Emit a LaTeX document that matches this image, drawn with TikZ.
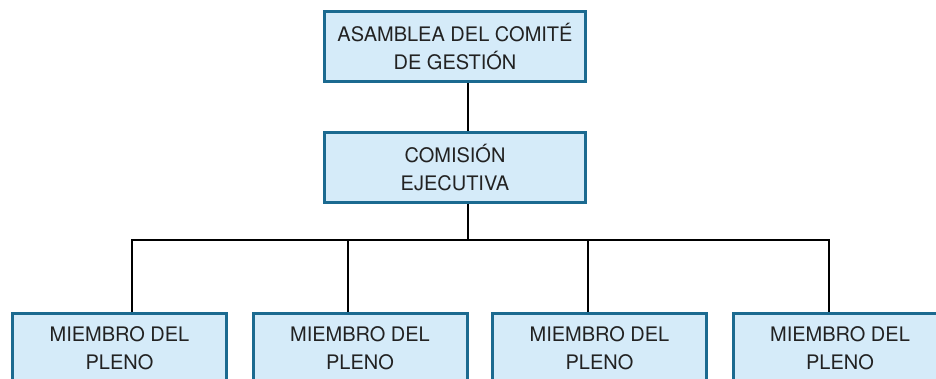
\documentclass[tikz,border=0pt]{standalone}
\usepackage{fontspec}
\setmainfont{TeX Gyre Heros}
\usepackage{xcolor}
\usepackage{tikz}
\usetikzlibrary{positioning}

\definecolor{boxfill}{HTML}{D5EBF9}
\definecolor{boxline}{HTML}{1B6A90}
\definecolor{boxtext}{HTML}{222222}

\begin{document}
\begin{tikzpicture}[x=1pt,y=-1pt,
			orgbox/.style={draw=boxline, fill=boxfill, line width=3pt, text=boxtext, align=center, font=\fontsize{20}{28}\selectfont, minimum width=261pt, minimum height=70pt, inner sep=0pt},
			memberbox/.style={orgbox, minimum width=214pt},
			link/.style={draw=black, line width=1.6pt}]
						\useasboundingbox (0,0) rectangle (936,378);
						% top levels
						\node[orgbox] (asamblea) at (455,46.5) {ASAMBLEA DEL COMITÉ\\DE GESTIÓN};
						\node[orgbox] (comision) at (455,167.5) {COMISIÓN\\EJECUTIVA};
						% members
						\node[memberbox] (m1) at (119.5,348.5) {MIEMBRO DEL\\PLENO};
						\node[memberbox] (m2) at (360,348.5) {MIEMBRO DEL\\PLENO};
						\node[memberbox] (m3) at (599.5,348.5) {MIEMBRO DEL\\PLENO};
						\node[memberbox] (m4) at (840,348.5) {MIEMBRO DEL\\PLENO};
						\coordinate (spine) at (468,240);
						\draw[link] (asamblea.south -| spine) -- (comision.north -| spine);
						\draw[link] (comision.south -| spine) -- (spine);
						\draw[link] ([xshift=12.5pt]m1.north) |- (spine) -| ([xshift=-11pt]m4.north);
						\draw[link] ([xshift=-12pt]m2.north) -- ([xshift=-12pt]m2.north |- spine);
						\draw[link] ([xshift=-11.5pt]m3.north) -- ([xshift=-11.5pt]m3.north |- spine);
					\end{tikzpicture}
\end{document}
